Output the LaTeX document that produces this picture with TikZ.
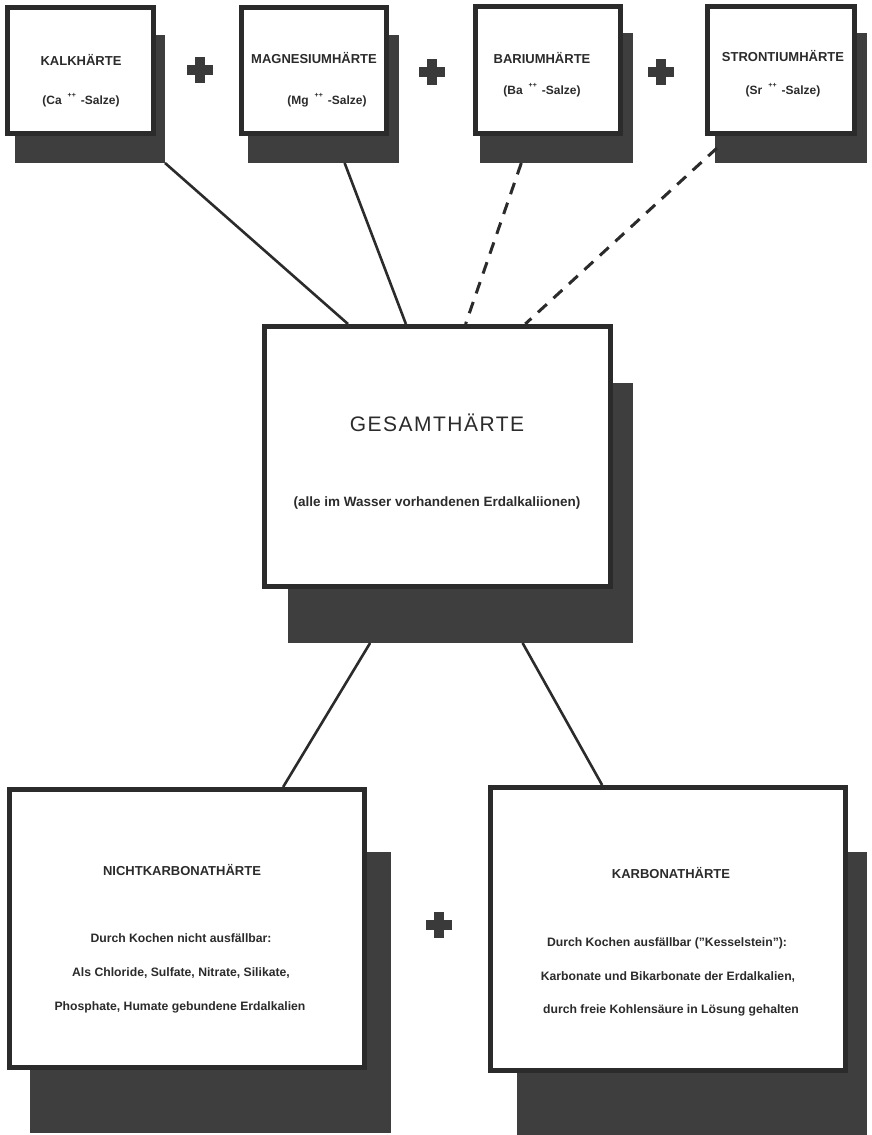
\documentclass[tikz,border=0pt]{standalone}
\usepackage{fontspec}
\setmainfont{Liberation Sans}
\usetikzlibrary{calc}
\definecolor{ink}{HTML}{2B2B2B}
\definecolor{shade}{HTML}{3E3E3E}
\definecolor{pluscol}{HTML}{3A3A3A}
\newcommand{\pp}{\raisebox{7pt}{\fontsize{7}{7}\selectfont ++}}
\tikzset{
  shadowbox/.style={fill=shade, draw=none, inner sep=0pt, outer sep=0pt, rectangle},
  hbox/.style={fill=white, draw=ink, line width=5pt, inner sep=0pt, rectangle},
  conn/.style={draw=ink, line width=2.6pt},
  dconn/.style={draw=ink, line width=3pt, dash pattern=on 12pt off 9pt},
  toptitle/.style={font=\fontsize{13}{15}\selectfont\bfseries, text=ink, inner sep=0pt},
  topsub/.style={font=\fontsize{12}{14}\selectfont\bfseries, text=ink, inner sep=0pt},
  smalltxt/.style={font=\fontsize{12.2}{14}\selectfont\bfseries, text=ink, inner sep=0pt},
  bigtitle/.style={font=\fontsize{13}{15}\selectfont\bfseries, text=ink, inner sep=0pt},
  plusbar/.style={fill=pluscol, draw=none, inner sep=0pt, rectangle}
}
\begin{document}
\begin{tikzpicture}[x=1pt,y=-1pt]
\useasboundingbox (0,0) rectangle (871,1135);
% shadows
\node[shadowbox, minimum width=150, minimum height=128] (kalkS) at (90,99) {};
\node[shadowbox, minimum width=151, minimum height=128] (mgS) at (323.5,99) {};
\node[shadowbox, minimum width=153, minimum height=130] (baS) at (556.5,98) {};
\node[shadowbox, minimum width=152, minimum height=130] (srS) at (791,98) {};
\node[shadowbox, minimum width=345, minimum height=260] (ctrS) at (460.5,513) {};
\node[shadowbox, minimum width=361, minimum height=281] (blS) at (210.5,992.5) {};
\node[shadowbox, minimum width=350, minimum height=283] (brS) at (692,993.5) {};
% boxes
\node[hbox, minimum width=146, minimum height=126] (kalk) at (80.5,70.5) {};
\node[hbox, minimum width=145, minimum height=126] (mg) at (314,70.5) {};
\node[hbox, minimum width=145, minimum height=127] (ba) at (548,70) {};
\node[hbox, minimum width=147, minimum height=127] (sr) at (781,70) {};
\node[hbox, minimum width=346, minimum height=260] (ctr) at (437.5,456.5) {};
\node[hbox, minimum width=355, minimum height=278] (bl) at (187,928.5) {};
\node[hbox, minimum width=355, minimum height=283] (br) at (668,929) {};
% connectors
\draw[conn] (kalkS.south east) -- ($(ctr.north west)!0.245!(ctr.north east)$);
\draw[conn] ($(mgS.south west)!0.64!(mgS.south east)$) -- ($(ctr.north west)!0.41!(ctr.north east)$);
\draw[dconn] ($(baS.south west)!0.27!(baS.south east)$) -- ($(ctr.north west)!0.58!(ctr.north east)$);
\draw[dconn] ($(srS.south west)+(2,-15)$) -- ($(ctr.north west)!0.75!(ctr.north east)$);
\draw[conn] ($(ctrS.south west)!0.238!(ctrS.south east)$) -- ($(bl.north west)!0.767!(bl.north east)$);
\draw[conn] ($(ctrS.south west)!0.68!(ctrS.south east)$) -- ($(br.north west)!0.317!(br.north east)$);
% top texts
\node[toptitle] (kalkT) at (81,60) {KALKHÄRTE};
\node[topsub] (kalkU) at (81,100) {(Ca\hspace{6pt}\pp\hspace{5pt}-Salze)};
\node[toptitle] (mgT) at (314,58) {MAGNESIUMHÄRTE};
\node[topsub] (mgU) at (327,100) {(Mg\hspace{6pt}\pp\hspace{5pt}-Salze)};
\node[toptitle] (baT) at (542,58) {BARIUMHÄRTE};
\node[topsub] (baU) at (542,90) {(Ba\hspace{6pt}\pp\hspace{5pt}-Salze)};
\node[toptitle] (srT) at (783,56) {STRONTIUMHÄRTE};
\node[topsub] (srU) at (783,90) {(Sr\hspace{6pt}\pp\hspace{5pt}-Salze)};
% center texts
\node[font=\fontsize{21}{25}\selectfont\addfontfeature{LetterSpace=7}, text=ink, inner sep=0pt] (ctrT) at (437,423) {GESAMTHÄRTE};
\node[font=\fontsize{13.5}{16}\selectfont\bfseries, text=ink, inner sep=0pt] (ctrU) at (437,503) {(alle im Wasser vorhandenen Erdalkaliionen)};
% bottom left texts
\node[bigtitle] (blT) at (182,870) {NICHTKARBONATHÄRTE};
\node[smalltxt] (bl1) at (181,938) {Durch Kochen nicht ausfällbar:};
\node[smalltxt] (bl2) at (181,973) {Als Chloride, Sulfate, Nitrate, Silikate,};
\node[smalltxt] (bl3) at (180,1007) {Phosphate, Humate gebundene Erdalkalien};
% bottom right texts
\node[bigtitle] (brT) at (671,873) {KARBONATHÄRTE};
\node[smalltxt] (br1) at (667,943) {Durch Kochen ausfällbar ("Kesselstein"):};
\node[smalltxt] (br2) at (668,977) {Karbonate und Bikarbonate der Erdalkalien,};
\node[smalltxt] (br3) at (671,1010) {durch freie Kohlensäure in Lösung gehalten};
% plus signs
\foreach \nm/\px/\py in {p1/200/70, p2/432/72, p3/661/72, p4/439/925}{
  \node[plusbar, minimum width=26, minimum height=10] (\nm h) at (\px,\py) {};
  \node[plusbar, minimum width=10, minimum height=26] (\nm v) at (\px,\py) {};
}
\end{tikzpicture}
\end{document}
